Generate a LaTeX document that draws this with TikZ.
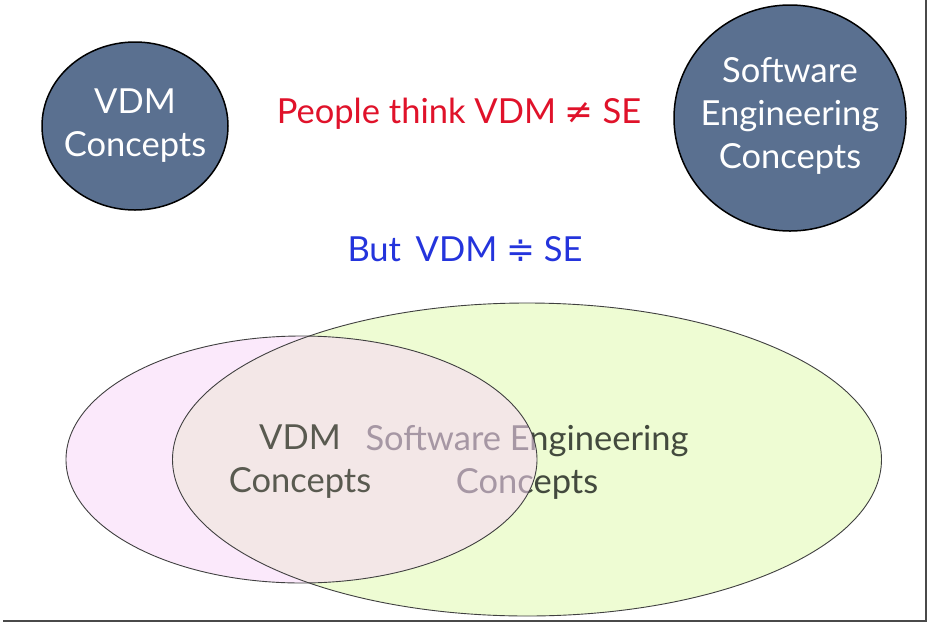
\documentclass[tikz,border=0pt]{standalone}
\usepackage{fontspec}
\setmainfont{Lato}
\newfontfamily\symfont{DejaVu Sans}
\usetikzlibrary{shapes.geometric}
\definecolor{circfill}{HTML}{5A7090}
\definecolor{redtxt}{HTML}{E0122A}
\definecolor{bluetxt}{HTML}{2434DC}
\definecolor{greenfill}{HTML}{EEFCD3}
\definecolor{pinkfill}{RGB}{248,215,248}
\definecolor{setxt}{HTML}{434A3E}
\definecolor{vdmtxt}{HTML}{595A50}
\definecolor{frame}{HTML}{4A4A4A}
\begin{document}
\begin{tikzpicture}[x=1pt,y=-1pt,
  bigtxt/.style={font=\fontsize{34.5}{43}\selectfont, align=center},
  concept/.style={ellipse, draw=black, line width=1.5pt, fill=circfill, inner sep=0pt, outer sep=0pt},
  concepttxt/.style={bigtxt, text=white}
]
\useasboundingbox (0,0) rectangle (930,625);
\fill[white] (0,0) rectangle (930,625);
% frame shadow
\draw[frame, line width=2.5pt] (3,621) -- (926,621) -- (926,0);

\node[concept, minimum width=186pt, minimum height=168pt] (vdm) at (135,126) {};
\node[concepttxt] (vdmlabel) at (vdm.center) {VDM\\Concepts};
\node[concept, minimum width=232pt, minimum height=226pt] (se) at (790,118) {};
\node[concepttxt] (selabel) at ([yshift=2pt]se.center) {Software\\Engineering\\Concepts};

\node[bigtxt, text=redtxt] (think) at (459,114) {People think VDM {\symfont ≠} SE};
\node[bigtxt, text=bluetxt] (but) at (465,249) {But\, VDM {\symfont ≑} SE};

% Venn
\fill[greenfill] (527,459.5) ellipse [x radius=354.5, y radius=156.5];
\node[bigtxt, text=setxt] (setext) at (527,462) {Software Engineering\\Concepts};
\fill[pinkfill, opacity=0.55] (301.5,459.5) ellipse [x radius=235.5, y radius=123.5];
\draw[black!75, line width=0.9pt] (527,459.5) ellipse [x radius=354.5, y radius=156.5];
\draw[black!75, line width=0.9pt] (301.5,459.5) ellipse [x radius=235.5, y radius=123.5];
\node[bigtxt, text=vdmtxt] (vdmtext) at (300,462) {VDM\\Concepts};
\end{tikzpicture}
\end{document}
